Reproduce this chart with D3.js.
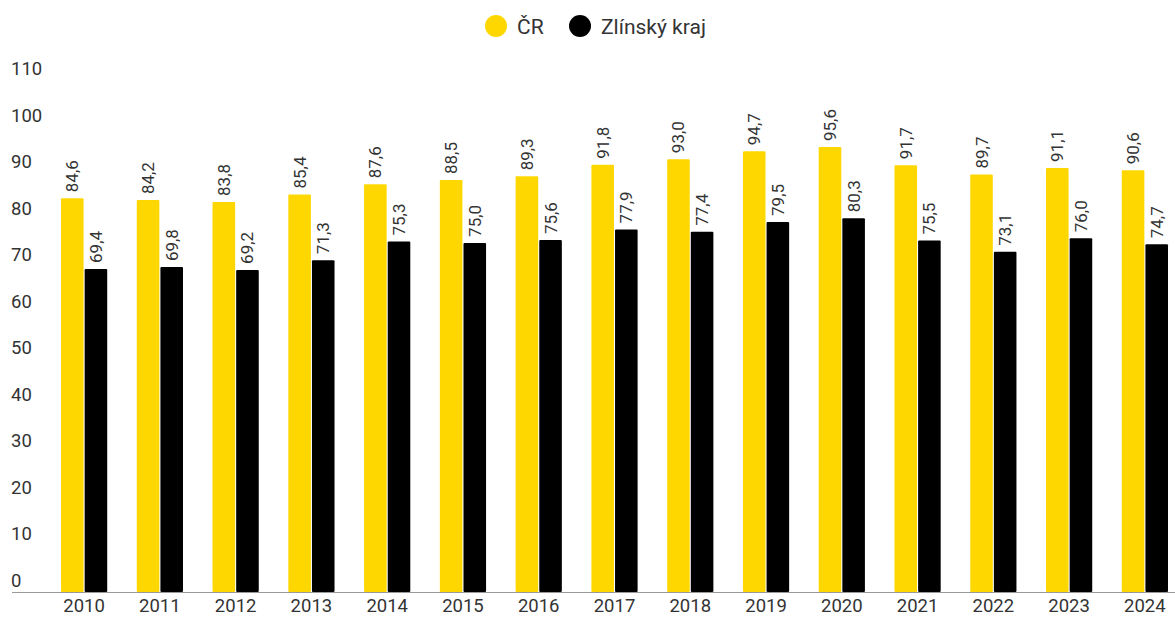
<!DOCTYPE html>
<html lang="cs">
<head>
  <meta charset="UTF-8" />
  <title>ČR vs Zlínský kraj</title>
  <script src="https://d3js.org/d3.v7.min.js"></script>
  <style>
    body { margin: 0; background: #fff; font-family: Roboto, 'Noto Sans', sans-serif; }
    svg text { fill: #333; }
  </style>
</head>
<body>
<script>
  const years = ["2010","2011","2012","2013","2014","2015","2016","2017","2018","2019","2020","2021","2022","2023","2024"];
  const crValues = [84.6, 84.2, 83.8, 85.4, 87.6, 88.5, 89.3, 91.8, 93.0, 94.7, 95.6, 91.7, 89.7, 91.1, 90.6];
  const zlinValues = [69.4, 69.8, 69.2, 71.3, 75.3, 75.0, 75.6, 77.9, 77.4, 79.5, 80.3, 75.5, 73.1, 76.0, 74.7];
  const seriesNames = ["ČR", "Zlínský kraj"];
  const seriesColors = ["#ffd700", "#000000"];
  const yTicks = [0, 10, 20, 30, 40, 50, 60, 70, 80, 90, 100, 110];

  const width = 1175, height = 617;
  const fmt = v => d3.format(".1f")(v).replace(".", ",");

  const svg = d3.select("body").append("svg")
    .attr("width", width)
    .attr("height", height);

  const x = d3.scaleBand().domain(years).range([61, 1168]).paddingInner(0.39).paddingOuter(0);
  const xSub = d3.scaleBand().domain(seriesNames).range([0, x.bandwidth()]).paddingInner(0.045);
  const y = d3.scaleLinear().domain([0, 110]).range([592, 80]);

  // y tick labels (sit just above their value line, no gridlines)
  svg.append("g").selectAll("text")
    .data(yTicks)
    .join("text")
    .attr("x", 11)
    .attr("y", d => y(d) - 5)
    .attr("font-size", 18.5)
    .text(d => d);

  const rows = years.map((yr, i) => ({ year: yr, vals: [
    { name: seriesNames[0], v: crValues[i], c: seriesColors[0] },
    { name: seriesNames[1], v: zlinValues[i], c: seriesColors[1] }
  ]}));

  const groups = svg.append("g").selectAll("g")
    .data(rows)
    .join("g")
    .attr("transform", d => `translate(${x(d.year)},0)`);

  groups.selectAll("rect")
    .data(d => d.vals)
    .join("rect")
    .attr("x", d => xSub(d.name))
    .attr("y", d => y(d.v))
    .attr("width", xSub.bandwidth())
    .attr("height", d => y(0) - y(d.v))
    .attr("rx", 1)
    .attr("fill", d => d.c);

  groups.selectAll("text.val")
    .data(d => d.vals)
    .join("text")
    .attr("class", "val")
    .attr("font-size", 17)
    .attr("text-anchor", "start")
    .attr("dominant-baseline", "central")
    .attr("transform", d => `translate(${xSub(d.name) + xSub.bandwidth() / 2},${y(d.v) - 6}) rotate(-90)`)
    .text(d => fmt(d.v));

  // x axis
  svg.append("line")
    .attr("x1", 12).attr("x2", width)
    .attr("y1", y(0) + 0.5).attr("y2", y(0) + 0.5)
    .attr("stroke", "#999").attr("stroke-width", 1);

  svg.append("g").selectAll("text")
    .data(years)
    .join("text")
    .attr("x", d => x(d) + x.bandwidth() / 2)
    .attr("y", 612)
    .attr("text-anchor", "middle")
    .attr("font-size", 18.5)
    .text(d => d);

  // legend
  const legend = svg.append("g").attr("transform", "translate(0,26)");
  const legendX = [496, 580];
  seriesNames.forEach((name, i) => {
    legend.append("circle")
      .attr("cx", legendX[i]).attr("cy", 0).attr("r", 11)
      .attr("fill", seriesColors[i]);
    legend.append("text")
      .attr("x", legendX[i] + 21).attr("y", 1)
      .attr("dominant-baseline", "central")
      .attr("font-size", 21)
      .text(name);
  });
</script>
</body>
</html>
